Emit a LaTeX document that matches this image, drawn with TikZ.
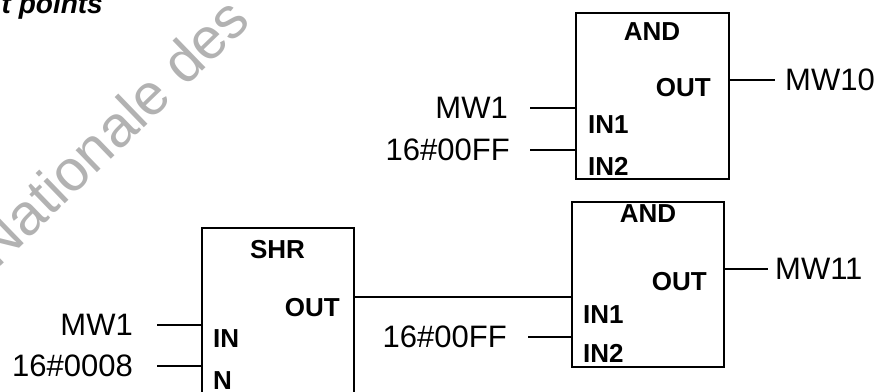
\documentclass[tikz,border=0pt]{standalone}
\usepackage{fontspec}
\setmainfont{Liberation Sans}
\begin{document}
\begin{tikzpicture}[x=1pt,y=-1pt,
  fb/.style={draw, line width=1.8pt, inner sep=0pt},
  wire/.style={line width=1.6pt},
  lbl/.style={inner sep=0pt, font=\fontsize{31}{32}\selectfont},
  pin/.style={inner sep=0pt, font=\fontsize{26}{27}\selectfont\bfseries},
  wmark/.style={text=black!30, rotate=44, anchor=base, inner sep=0pt, font=\fontsize{58}{58}\selectfont}]
\useasboundingbox (0,0) rectangle (889,391);
% watermark and title
\node[wmark] (wm) at (125,146) {Nationale des};
\node[anchor=base east, inner sep=0pt, font=\fontsize{28}{28}\selectfont\bfseries\itshape] (title) at (103,13) {t points};

% boxes
\node[fb, minimum width=153pt, minimum height=166pt] (and1) at (652.5,96) {};
\node[fb, minimum width=152pt, minimum height=165pt] (and2) at (648,284.5) {};
\node[fb, minimum width=152pt, minimum height=200pt] (shr) at (278,328) {};

% pin texts, AND 1
\node[pin] (and1t) at (652,32) {AND};
\node[pin, anchor=east] (and1o) at (711,88) {OUT};
\node[pin, anchor=west] (and1i1) at (588,125) {IN1};
\node[pin, anchor=west] (and1i2) at (588,166) {IN2};
% pin texts, AND 2
\node[pin] (and2t) at (648,213.5) {AND};
\node[pin, anchor=east] (and2o) at (707,282) {OUT};
\node[pin, anchor=west] (and2i1) at (583,315) {IN1};
\node[pin, anchor=west] (and2i2) at (583,353.5) {IN2};
% pin texts, SHR
\node[pin] (shrt) at (277.5,250) {SHR};
\node[pin, anchor=east] (shro) at (340,308) {OUT};
\node[pin, anchor=west] (shri) at (213,339) {IN};
\node[pin, anchor=west] (shrn) at (213,381) {N};

% operand labels
\node[lbl, anchor=east] (mw1a) at (508,108) {MW1};
\node[lbl, anchor=east] (ffa) at (510,150) {16\#00FF};
\node[lbl, anchor=west] (mw10) at (785,80) {MW10};
\node[lbl, anchor=east] (ffb) at (507,337) {16\#00FF};
\node[lbl, anchor=west] (mw11) at (775,269) {MW11};
\node[lbl, anchor=east] (mw1b) at (133,325) {MW1};
\node[lbl, anchor=east] (c8) at (133,366) {16\#0008};

\coordinate (ylink) at (0,297);

% wires
\draw[wire] ([xshift=22pt]mw1a.east) -- (mw1a.east -| and1.west);
\draw[wire] ([xshift=20pt]ffa.east) -- (ffa.east -| and1.west);
\draw[wire] (and1.east |- mw10.west) -- ([xshift=-10pt]mw10.west);
\draw[wire] ([xshift=21pt]ffb.east) -- (ffb.east -| and2.west);
\draw[wire] (and2.east |- mw11.west) -- ([xshift=-7pt]mw11.west);
\draw[wire] (shr.east |- ylink) -- (and2.west |- ylink);
\draw[wire] ([xshift=24pt]mw1b.east) -- (mw1b.east -| shr.west);
\draw[wire] ([xshift=24pt]c8.east) -- (c8.east -| shr.west);
\end{tikzpicture}
\end{document}
